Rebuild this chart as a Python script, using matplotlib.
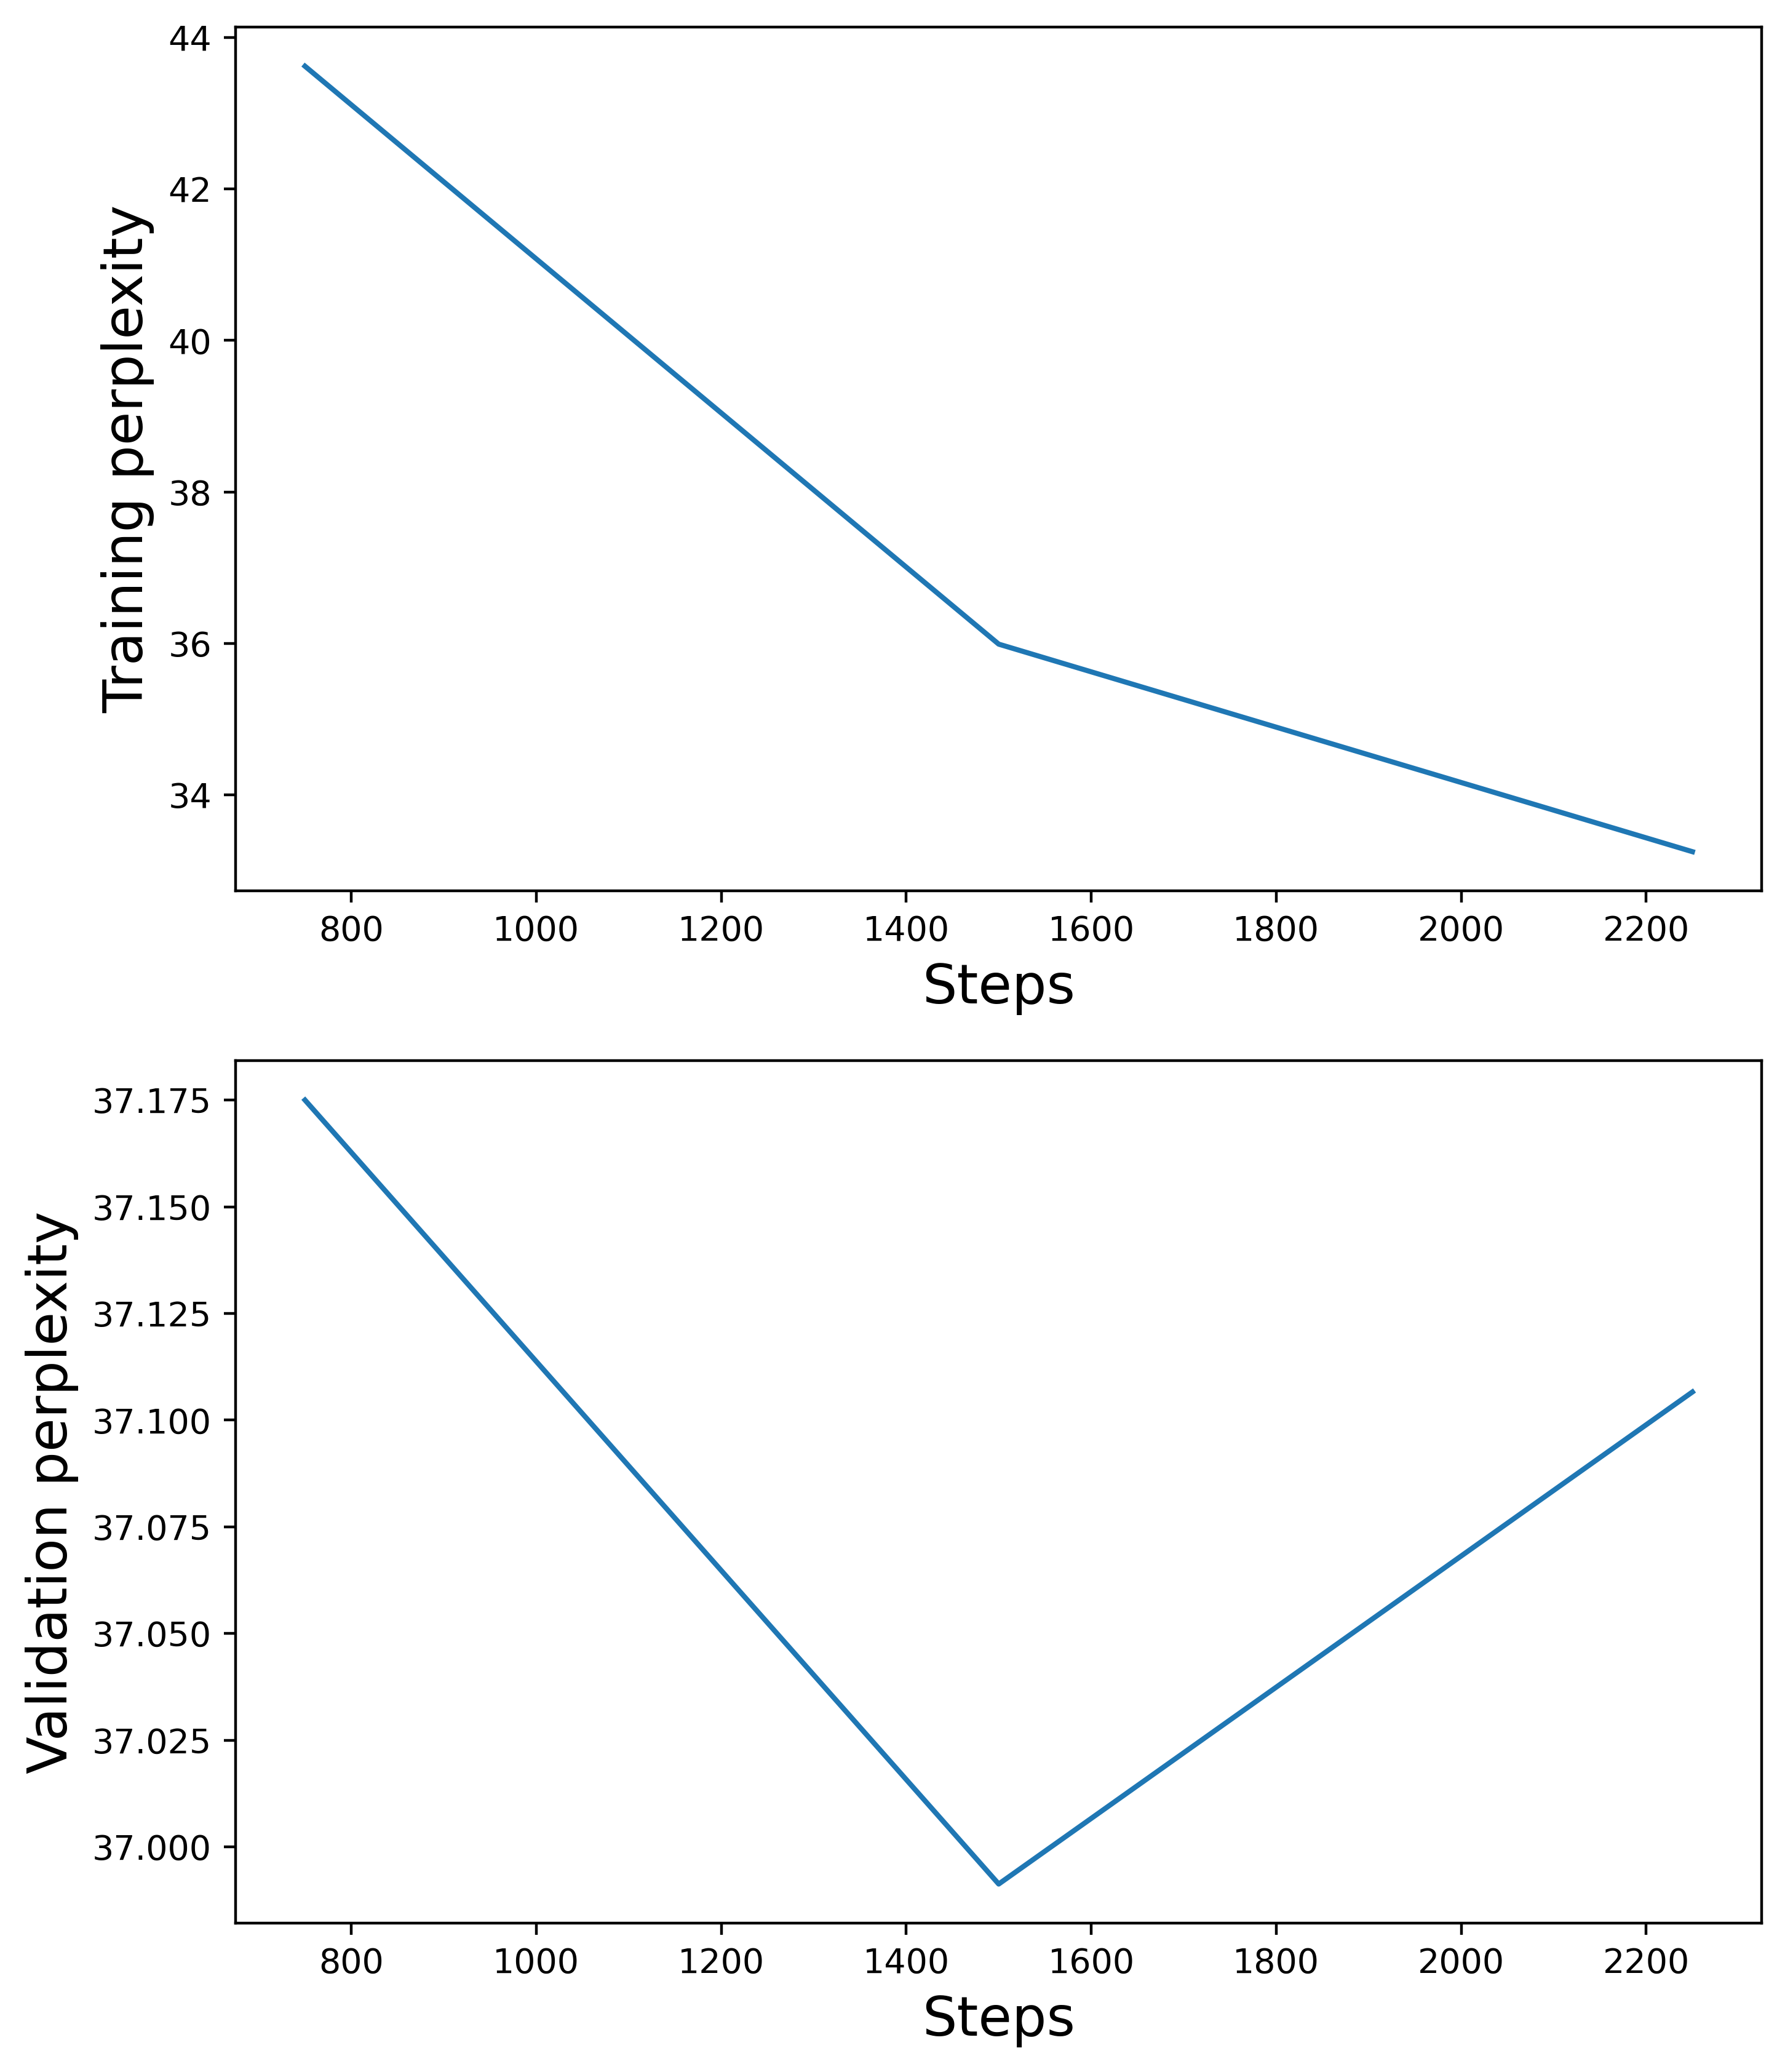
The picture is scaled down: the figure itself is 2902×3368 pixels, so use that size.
import matplotlib
matplotlib.use("Agg")
import matplotlib.pyplot as plt

steps = [750, 1500, 2250]
train_ppl = [43.62, 35.99, 33.25]
val_ppl = [37.175, 36.9913, 37.1066]

DPI = 400
fig = plt.figure(figsize=(2902/DPI, 3368/DPI), dpi=DPI)
ax1 = fig.add_axes([0.132, 0.570, 0.855, 0.417])
ax2 = fig.add_axes([0.132, 0.0718, 0.855, 0.4162])

ax1.plot(steps, train_ppl, color="#1f77b4", linewidth=1.5)
ax1.set_xlabel("Steps", fontsize=16)
ax1.set_ylabel("Training perplexity", fontsize=16)

ax2.plot(steps, val_ppl, color="#1f77b4", linewidth=1.5)
ax2.set_xlabel("Steps", fontsize=16)
ax2.set_ylabel("Validation perplexity", fontsize=16)

for ax in (ax1, ax2):
    ax.tick_params(labelsize=10)

fig.savefig("out.png", dpi=DPI)
